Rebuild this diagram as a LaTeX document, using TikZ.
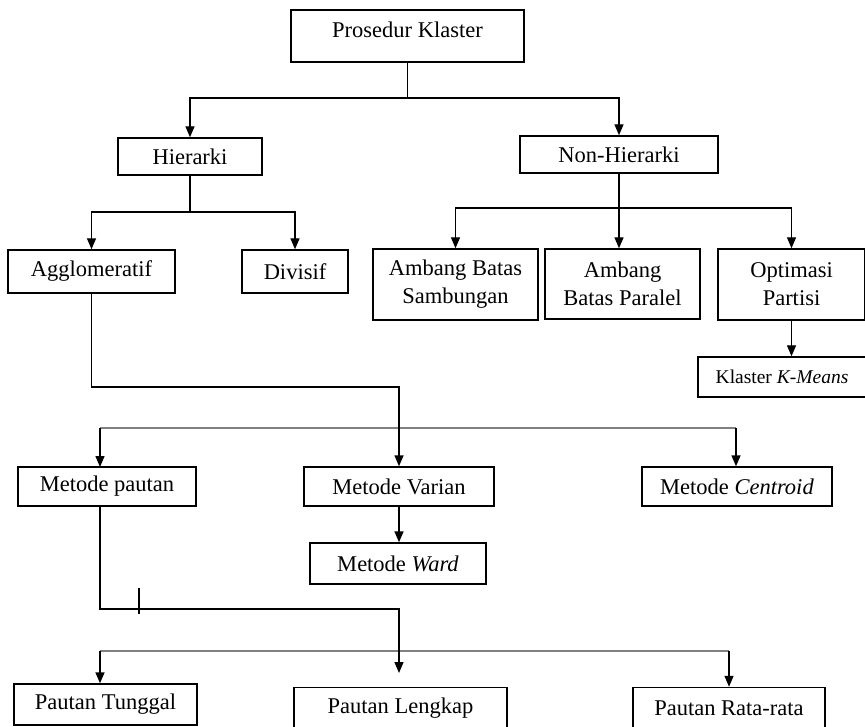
\documentclass[tikz,border=0pt]{standalone}
\usepackage{fontspec}
\setmainfont{Liberation Serif}
\usetikzlibrary{arrows.meta}
\begin{document}
\begin{tikzpicture}[x=1pt,y=-1pt,
  box/.style={draw, line width=1.4pt, inner sep=0pt, align=center,
    font=\fontsize{22.5}{28}\selectfont},
  arr/.style={line width=1.4pt, -{Triangle[length=11pt,width=9pt]}},
  ln/.style={line width=1.4pt},
  gline/.style={line width=2.2pt, draw=black!50}]
\useasboundingbox (0,0) rectangle (865,727);
\fill[white] (0,0) rectangle (865,727);
% nodes
\node[box, minimum width=233pt, minimum height=52pt, text height=16pt, text depth=12pt] (pk) at (407.5,36) {Prosedur Klaster};
\node[box, minimum width=144pt, minimum height=37pt] (hier) at (190,156.5) {Hierarki};
\node[box, minimum width=198pt, minimum height=37pt] (nonh) at (619,154.5) {Non-Hierarki};
\node[box, minimum width=167pt, minimum height=43pt] (aggl) at (91.5,271.5) {Agglomeratif};
\node[box, minimum width=106pt, minimum height=43pt] (div) at (295,271.5) {Divisif};
\node[box, minimum width=165pt, minimum height=71pt] (abs) at (455.5,284.5) {Ambang Batas\\Sambungan};
\node[box, minimum width=155pt, minimum height=70pt] (abp) at (622.5,284) {Ambang\\Batas Paralel};
\node[box, minimum width=147pt, minimum height=71pt] (opt) at (791.5,284.5) {Optimasi\\Partisi};
\node[box, minimum width=168pt, minimum height=40pt, font=\fontsize{19.5}{24}\selectfont] (km) at (782,377) {Klaster \textit{K-Means}};
\node[box, minimum width=178pt, minimum height=39pt] (mp) at (107,486.5) {Metode pautan};
\node[box, minimum width=190pt, minimum height=39pt] (mv) at (399,486.5) {Metode Varian};
\node[box, minimum width=190pt, minimum height=39pt] (mc) at (737,486.5) {Metode \textit{Centroid}};
\node[box, minimum width=176pt, minimum height=41pt] (mw) at (398,563.5) {Metode \textit{Ward}};
\node[box, minimum width=183pt, minimum height=41pt] (pt) at (105.5,704.5) {Pautan Tunggal};
\node[box, minimum width=213pt, minimum height=41pt] (pl) at (400.5,708) {Pautan Lengkap};
\node[box, minimum width=192pt, minimum height=41pt] (pr) at (729,708) {Pautan Rata-rata};
% junction coordinates
\coordinate (j1) at (407.5,98);
\coordinate (j2) at (190,212);
\coordinate (j3) at (619,208);
\coordinate (j4) at (399,387);
\coordinate (g1a) at (100,428);
\coordinate (g1b) at (736,428);
\coordinate (mpa) at (100,467);
\coordinate (mps) at (100,506);
\coordinate (j5) at (399,609);
\coordinate (ptip) at (399,673);
\coordinate (g2a) at (100,651);
\coordinate (g2b) at (729,651);
\coordinate (tka) at (139,588);
\coordinate (tkb) at (139,614);
% connectors
\draw[ln] (pk.south) -- (j1);
\draw[arr] (j1) -| (hier.north);
\draw[arr] (j1) -| (nonh.north);
\draw[ln] (hier.south) -- (j2);
\draw[arr] (j2) -| (aggl.north);
\draw[arr] (j2) -| (div.north);
\draw[ln] (nonh.south) -- (j3);
\draw[arr] (j3) -| (abs.north);
\draw[arr] (j3) -- (nonh.south |- abp.north);
\draw[arr] (j3) -| (opt.north);
\draw[arr] (opt.south) -- (opt.south |- km.north);
\draw[gline] (g1a) -- (g1b);
\draw[arr] (g1a) -- (mpa);
\draw[arr] (g1b) -- (g1b |- mc.north);
\draw[arr] (aggl.south) |- (j4) -- (mv.north);
\draw[arr] (mv.south) -- (mv.south |- mw.north);
\draw[gline] (g2a) -- (g2b);
\draw[arr] (g2a) -- (g2a |- pt.north);
\draw[arr] (g2b) -- (pr.north);
\draw[arr] (mps) |- (j5) -- (ptip);
\draw[line width=2.5pt] (tka) -- (tkb);
\end{tikzpicture}
\end{document}
